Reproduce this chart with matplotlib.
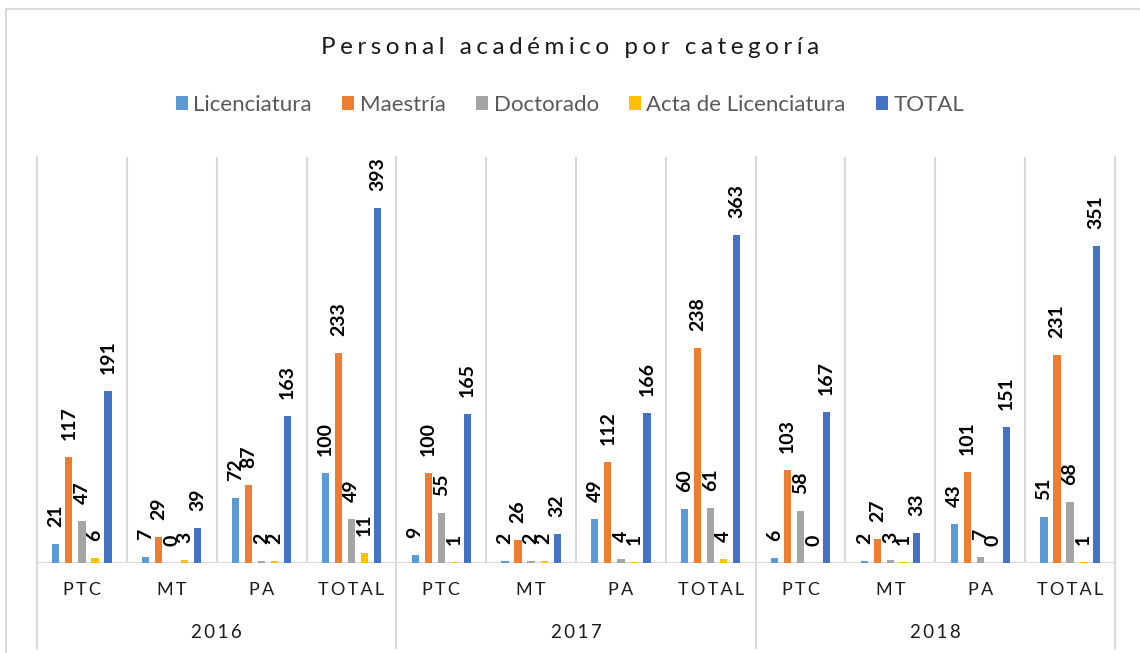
import numpy as np
import matplotlib
matplotlib.use('Agg')
import matplotlib.pyplot as plt
from matplotlib.patches import Rectangle
from matplotlib.lines import Line2D

plt.rcParams['font.family'] = ['Lato', 'DejaVu Sans']

years = ['2016', '2017', '2018']
cats = ['PTC', 'MT', 'PA', 'TOTAL']
series = ['Licenciatura', 'Maestría', 'Doctorado', 'Acta de Licenciatura', 'TOTAL']
colors = ['#5B9BD5', '#ED7D31', '#A5A5A5', '#FFC000', '#4472C4']

lic = [21, 7, 72, 100, 9, 2, 49, 60, 6, 2, 43, 51]
mae = [117, 29, 87, 233, 100, 26, 112, 238, 103, 27, 101, 231]
doc = [47, 0, 2, 49, 55, 2, 4, 61, 58, 3, 7, 68]
acta = [6, 3, 2, 11, 1, 2, 1, 4, 0, 1, 0, 1]
total = [191, 39, 163, 393, 165, 32, 166, 363, 167, 33, 151, 351]

data = [lic, mae, doc, acta, total]

W, H = 1140, 653
fig = plt.figure(figsize=(W / 100, H / 100), dpi=100)
ax = fig.add_axes([37 / W, (H - 563) / H, (1115 - 37) / W, (563 - 157) / H])

def spaced(s, sp='\u200a'):
    return sp.join(s)

x = np.arange(len(lic))
step = 0.145
bw = 0.08
grid_c = '#D9D9D9'

for k, vals in enumerate(data):
    pos = x + (k - 2) * step
    bars = ax.bar(pos, vals, width=bw, color=colors[k], label=series[k], zorder=3)
    for b, v in zip(bars, vals):
        ax.annotate(str(v), (b.get_x() + b.get_width() / 2, v),
                    xytext=(0, 17), textcoords='offset pixels',
                    rotation=90, ha='center', va='bottom',
                    fontsize=14, fontweight='bold', color='black', zorder=4)

ax.set_xlim(-0.5, len(lic) - 0.5)
ax.set_ylim(0, 450)
for s in ax.spines.values():
    s.set_visible(False)
ax.set_xticks([])
ax.set_yticks([])

# separators
for i in range(len(lic) + 1):
    xs = i - 0.5
    if i % 4 == 0:
        ln = Line2D([xs, xs], [1, -0.21], transform=ax.get_xaxis_transform(),
                    color=grid_c, lw=1.5, clip_on=False)
        ax.add_line(ln)
    else:
        ax.axvline(xs, color=grid_c, lw=1.5, zorder=1)
ax.axhline(0, color=grid_c, lw=1.5, zorder=2)

# category labels
trans = ax.get_xaxis_transform()
for i in range(len(lic)):
    ax.text(i, -27 / 406, spaced(cats[i % 4], '\u2009'), transform=trans,
            ha='center', va='center', fontsize=13, color='#1a1a1a')
for j, yr in enumerate(years):
    ax.text(j * 4 + 1.5, -69 / 406, spaced(yr, '\u2009'), transform=trans,
            ha='center', va='center', fontsize=13.5, color='#1a1a1a')

fig.text(0.5, 1 - 47 / H, spaced('Personal académico por categoría', '\u2009\u200a'),
         ha='center', va='center', fontsize=17.5, color='#1a1a1a')

fig.legend(loc='center', bbox_to_anchor=(0.5, 1 - 105 / H), ncol=5,
           frameon=False, fontsize=16, handlelength=0.55, handleheight=0.55,
           handletextpad=0.25, columnspacing=1.35, labelcolor='#595959')

fig.patches.append(Rectangle((6 / W, -0.1), 1.2, (H - 9) / H + 0.1,
                             transform=fig.transFigure, fill=False,
                             edgecolor=grid_c, lw=1.5))

fig.savefig('out.png', dpi=100)
